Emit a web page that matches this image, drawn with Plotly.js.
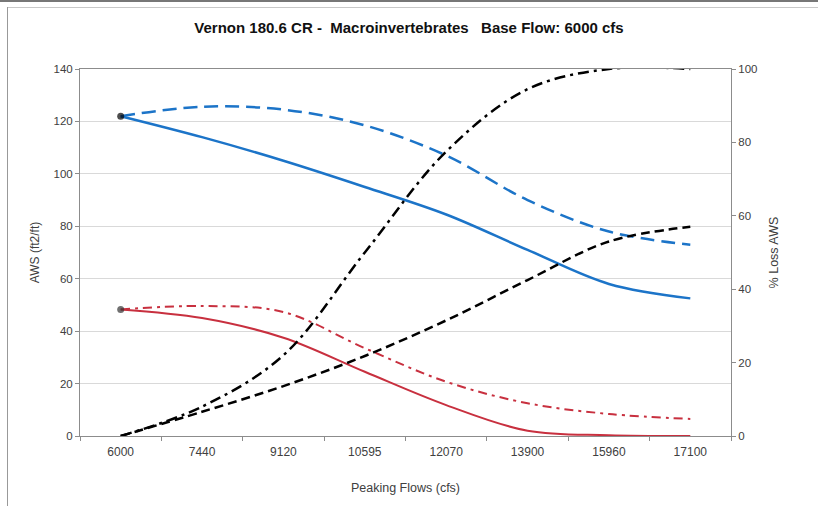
<!DOCTYPE html>
<html>
<head>
<meta charset="utf-8">
<script src="https://cdn.plot.ly/plotly-3.0.1.min.js"></script>
<style>
html,body{margin:0;padding:0;background:#fff;}
#chart{width:818px;height:506px;}
</style>
</head>
<body>
<div id="chart"></div>
<script>
// ---- data ----
const categories = ['6000','7440','9120','10595','12070','13900','15960','17100'];
const awsBlueSolid = [122, 114, 105, 95, 84.5, 71, 58, 52.5];
const awsBlueDash  = [122, 125.6, 124.5, 118.5, 107, 90, 78, 73];
const awsRedSolid  = [48.3, 45, 37.5, 24.5, 11.8, 2, 0.3, 0];
const awsRedDash   = [48.3, 49.6, 47.3, 33.5, 20.7, 12.5, 8.4, 6.5];
const lossBlack    = [0, 6.6, 13.6, 21.8, 31.5, 42.5, 53, 57];
const lossBlackDD  = [0, 8, 22, 50, 77.5, 94.5, 100, 100];
const titleText = 'Vernon 180.6 CR -  Macroinvertebrates   Base Flow: 6000 cfs';
const xTitle = 'Peaking Flows (cfs)';
const yTitle = 'AWS (ft2/ft)';
const y2Title = '% Loss AWS';

const blue = '#1C74C8';
const red = '#C8303F';
const firstOnly = (s) => categories.map((c, i) => i === 0 ? s : 0);
const FONT = 'Liberation Sans, Arial, sans-serif';

const traces = [
  {x: categories, y: lossBlackDD, yaxis: 'y2', mode: 'lines', line: {color: '#000', width: 2.5, dash: '11px,5px,3px,5px', shape: 'spline'}},
  {x: categories, y: lossBlack, yaxis: 'y2', mode: 'lines', line: {color: '#000', width: 2.5, dash: '9px,5px', shape: 'spline'}},
  {x: categories, y: awsBlueDash, mode: 'lines', line: {color: blue, width: 2.5, dash: '14px,7px', shape: 'spline'}},
  {x: categories, y: awsRedDash, mode: 'lines', line: {color: red, width: 2, dash: '9px,5px,3px,5px', shape: 'spline'}},
  {x: categories, y: awsBlueSolid, mode: 'lines+markers', line: {color: blue, width: 2.5, shape: 'spline'},
   marker: {color: '#000', size: firstOnly(7), line: {width: 0}}},
  {x: categories, y: awsRedSolid, mode: 'lines+markers', line: {color: red, width: 2, shape: 'spline'},
   marker: {color: '#333', size: firstOnly(7), line: {width: 0}}}
];

const L = 80, R = 731, T = 69, B = 436;
const px = (v) => (v - L) / (R - L);
const py = (v) => (B - v) / (B - T);

const layout = {
  width: 818, height: 506,
  margin: {l: L, r: 818 - R, t: T, b: 506 - B},
  paper_bgcolor: '#fff', plot_bgcolor: '#fff',
  showlegend: false,
  font: {family: FONT, size: 12, color: '#404040'},
  title: {text: '<b>' + titleText + '</b>', x: 0.5, xanchor: 'center', xref: 'container',
          y: 1 - 28 / 506, yanchor: 'middle', yref: 'container',
          font: {size: 15, color: '#111', family: FONT}},
  xaxis: {type: 'category', range: [-0.5, 7.5], showgrid: false, zeroline: false,
          showline: true, linecolor: '#8c8c8c', linewidth: 1, mirror: true,
          ticks: 'outside', tickson: 'boundaries', ticklen: 4, tickcolor: '#8c8c8c',
          ticklabelstandoff: 5,
          tickfont: {size: 12, color: '#404040'},
          title: {text: xTitle, standoff: 24, font: {size: 12.5, color: '#404040'}}},
  yaxis: {range: [0, 140], dtick: 20, showgrid: true, gridcolor: '#d9d9d9', zeroline: false,
          showline: true, linecolor: '#8c8c8c', ticks: 'outside', ticklen: 4, tickcolor: '#8c8c8c',
          tickfont: {size: 11.5, color: '#404040'},
          title: {text: yTitle, standoff: 11, font: {size: 12, color: '#404040'}}},
  yaxis2: {range: [0, 100], dtick: 20, overlaying: 'y', side: 'right', showgrid: false, zeroline: false,
           showline: true, linecolor: '#8c8c8c', ticks: 'outside', ticklen: 4, tickcolor: '#8c8c8c',
           tickfont: {size: 11.5, color: '#404040'},
           title: {text: y2Title, standoff: 12, font: {size: 12.5, color: '#404040'}}},
  shapes: [
    {type: 'line', xref: 'paper', yref: 'paper', x0: px(0), x1: px(818), y0: py(1), y1: py(1),
     line: {color: '#777', width: 2}},
    {type: 'line', xref: 'paper', yref: 'paper', x0: px(7), x1: px(818), y0: py(7.5), y1: py(7.5),
     line: {color: '#c8c8c8', width: 1}},
    {type: 'line', xref: 'paper', yref: 'paper', x0: px(7.5), x1: px(7.5), y0: py(7), y1: py(506),
     line: {color: '#999', width: 1}}
  ]
};

Plotly.newPlot('chart', traces, layout, {staticPlot: true, displayModeBar: false});
</script>
</body>
</html>
